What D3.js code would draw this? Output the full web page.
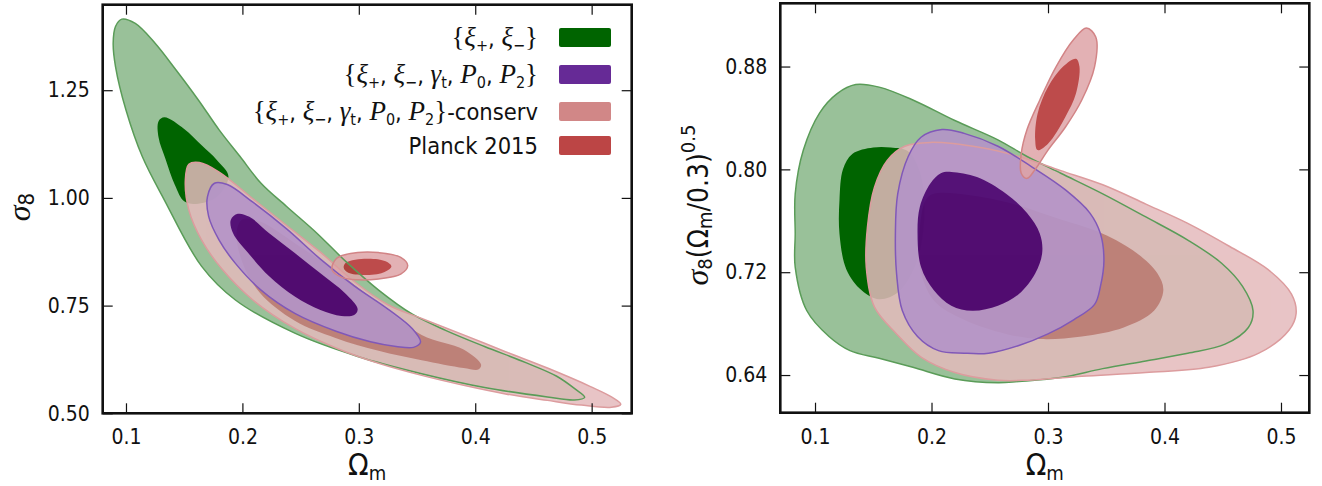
<!DOCTYPE html>
<html><head><meta charset="utf-8">
<script src="https://cdn.jsdelivr.net/npm/d3@7"></script>
<style>
body{margin:0;background:#fff;}
svg text{font-family:"DejaVu Sans Condensed","DejaVu Sans",sans-serif;font-stretch:condensed;fill:#111;}
</style></head><body><svg id="c" width="1322" height="486"></svg>
<script>
// ---------------- data ----------------
const xTicks = [0.1, 0.2, 0.3, 0.4, 0.5];
const yTicksLeft = [0.50, 0.75, 1.00, 1.25];
const yTicksRight = [0.64, 0.72, 0.80, 0.88];
const categories = ["{ξ+, ξ−}", "{ξ+, ξ−, γt, P0, P2}", "{ξ+, ξ−, γt, P0, P2}-conserv", "Planck 2015"];

// left panel: Omega_m vs sigma_8
const leftGreenOuter = [[0.0964,1.415],[0.108,1.405],[0.125,1.359],[0.143,1.297],[0.162,1.228],[0.180,1.158],[0.198,1.096],[0.216,1.034],[0.238,0.980],[0.264,0.918],[0.289,0.852],[0.317,0.786],[0.346,0.730],[0.375,0.692],[0.408,0.655],[0.444,0.617],[0.470,0.586],[0.486,0.556],[0.494,0.537],[0.485,0.531],[0.462,0.538],[0.408,0.560],[0.354,0.592],[0.299,0.632],[0.245,0.686],[0.194,0.763],[0.165,0.841],[0.133,0.995],[0.114,1.096],[0.100,1.204],[0.091,1.305],[0.089,1.359],[0.091,1.398]];
const leftGreenInner = [[0.128,1.178],[0.133,1.187],[0.150,1.160],[0.165,1.122],[0.178,1.088],[0.188,1.050],[0.178,1.002],[0.160,0.986],[0.150,0.992],[0.142,1.030],[0.134,1.090],[0.128,1.140]];
const leftConservOuter = [[0.154,1.078],[0.163,1.082],[0.180,1.060],[0.209,0.998],[0.238,0.936],[0.267,0.874],[0.296,0.806],[0.325,0.752],[0.354,0.720],[0.390,0.682],[0.426,0.643],[0.462,0.605],[0.499,0.562],[0.517,0.538],[0.525,0.521],[0.517,0.514],[0.491,0.519],[0.462,0.530],[0.426,0.545],[0.390,0.565],[0.354,0.588],[0.317,0.616],[0.281,0.651],[0.245,0.697],[0.209,0.763],[0.183,0.833],[0.165,0.902],[0.154,0.972],[0.151,1.042]];
const leftConservInner = [[0.200,0.950],[0.215,0.945],[0.245,0.895],[0.280,0.830],[0.315,0.760],[0.354,0.682],[0.390,0.648],[0.405,0.613],[0.403,0.602],[0.390,0.605],[0.354,0.623],[0.317,0.645],[0.280,0.675],[0.245,0.715],[0.215,0.780],[0.200,0.850],[0.195,0.920]];
const leftJointOuter = [[0.176,1.034],[0.187,1.031],[0.209,0.990],[0.238,0.928],[0.267,0.858],[0.296,0.796],[0.325,0.742],[0.346,0.696],[0.353,0.665],[0.347,0.653],[0.332,0.655],[0.310,0.666],[0.281,0.690],[0.245,0.732],[0.216,0.786],[0.194,0.848],[0.180,0.902],[0.171,0.957],[0.170,1.003]];
const leftJointInner = [[0.190,0.949],[0.196,0.963],[0.206,0.956],[0.223,0.918],[0.245,0.872],[0.267,0.825],[0.288,0.779],[0.299,0.742],[0.296,0.728],[0.285,0.726],[0.267,0.740],[0.245,0.771],[0.223,0.818],[0.205,0.872],[0.192,0.918]];
const leftPlanckOuter = [[0.281,0.860],[0.299,0.873],[0.317,0.873],[0.336,0.862],[0.342,0.843],[0.336,0.823],[0.317,0.812],[0.299,0.810],[0.286,0.815],[0.277,0.833]];
const leftPlanckInner = [[0.289,0.850],[0.307,0.859],[0.323,0.853],[0.328,0.841],[0.321,0.827],[0.305,0.821],[0.291,0.826],[0.287,0.838]];

// right panel: Omega_m vs sigma_8 (Omega_m/0.3)^0.5
const rightGreenOuter = [[0.135,0.866],[0.155,0.864],[0.184,0.854],[0.220,0.838],[0.257,0.823],[0.282,0.810],[0.311,0.797],[0.347,0.781],[0.384,0.763],[0.420,0.745],[0.449,0.727],[0.467,0.709],[0.476,0.690],[0.472,0.677],[0.452,0.664],[0.420,0.657],[0.384,0.651],[0.347,0.645],[0.311,0.638],[0.275,0.635],[0.257,0.634],[0.220,0.637],[0.184,0.646],[0.155,0.653],[0.130,0.659],[0.112,0.670],[0.093,0.690],[0.083,0.724],[0.083,0.750],[0.083,0.781],[0.090,0.815],[0.104,0.844],[0.119,0.859]];
const rightGreenInner = [[0.121,0.776],[0.124,0.800],[0.132,0.812],[0.150,0.817],[0.165,0.817],[0.180,0.814],[0.190,0.798],[0.194,0.770],[0.188,0.730],[0.172,0.705],[0.155,0.699],[0.140,0.706],[0.127,0.722],[0.121,0.750]];
const rightConservOuter = [[0.177,0.818],[0.199,0.821],[0.242,0.817],[0.275,0.810],[0.311,0.799],[0.347,0.788],[0.384,0.773],[0.420,0.758],[0.456,0.740],[0.489,0.722],[0.509,0.703],[0.513,0.688],[0.507,0.675],[0.481,0.657],[0.438,0.646],[0.384,0.642],[0.329,0.639],[0.282,0.636],[0.257,0.636],[0.220,0.642],[0.191,0.654],[0.170,0.672],[0.151,0.693],[0.144,0.724],[0.145,0.755],[0.151,0.786],[0.162,0.807]];
const rightConservInner = [[0.202,0.781],[0.257,0.776],[0.311,0.761],[0.347,0.750],[0.376,0.735],[0.394,0.719],[0.399,0.706],[0.391,0.690],[0.365,0.677],[0.329,0.670],[0.293,0.668],[0.264,0.672],[0.228,0.683],[0.202,0.698],[0.190,0.724],[0.190,0.755],[0.195,0.776]];
const rightJointOuter = [[0.209,0.831],[0.228,0.828],[0.257,0.818],[0.286,0.802],[0.315,0.784],[0.336,0.766],[0.345,0.750],[0.348,0.729],[0.345,0.709],[0.340,0.695],[0.322,0.683],[0.300,0.672],[0.275,0.663],[0.249,0.657],[0.228,0.657],[0.206,0.659],[0.188,0.670],[0.175,0.690],[0.170,0.719],[0.169,0.750],[0.171,0.781],[0.180,0.810],[0.191,0.825]];
const rightJointInner = [[0.217,0.798],[0.239,0.794],[0.264,0.781],[0.282,0.766],[0.293,0.750],[0.295,0.735],[0.289,0.719],[0.275,0.703],[0.257,0.694],[0.235,0.690],[0.217,0.694],[0.202,0.706],[0.191,0.724],[0.188,0.750],[0.190,0.771],[0.199,0.789],[0.208,0.797]];
const rightPlanckOuter = [[0.333,0.910],[0.341,0.903],[0.340,0.880],[0.329,0.854],[0.315,0.833],[0.300,0.815],[0.289,0.800],[0.282,0.793],[0.277,0.797],[0.277,0.812],[0.282,0.831],[0.293,0.854],[0.307,0.880],[0.322,0.901]];
const rightPlanckInner = [[0.324,0.886],[0.327,0.880],[0.324,0.859],[0.315,0.841],[0.300,0.820],[0.291,0.815],[0.289,0.823],[0.291,0.843],[0.300,0.864],[0.313,0.880]];

// ---------------- styling ----------------
const chainStyles = {
  green:   {light:"#99c199", dark:"#006400", line:"#5a9c58", op:1.0,  swatch:"#006400"},
  joint:   {light:"#b494c8", dark:"#460070", line:"#8058b8", op:0.9,  swatch:"#662a96"},
  conserv: {light:"#e4babc", dark:"#c47673", line:"#dc9c9e", op:0.85, swatch:"#d18787"},
  planck:  {light:"#dfa4a7", dark:"#b22c2c", line:"#d28486", op:0.85, swatch:"#bc4545"}
};
const legendKeys = ["green","joint","conserv","planck"];

const svg = d3.select("#c");
svg.append("rect").attr("width",1322).attr("height",486).attr("fill","#fff");

const panels = [
  {id:"L", px:[102.7,631.7], py:[413.3,4.7], xd:[0.08,0.5344], yd:[0.5,1.4485], yTicks:yTicksLeft,
   chains:[["green",leftGreenOuter,leftGreenInner],["conserv",leftConservOuter,leftConservInner],["joint",leftJointOuter,leftJointInner],["planck",leftPlanckOuter,leftPlanckInner]]},
  {id:"R", px:[780.3,1309.3], py:[412.7,3.3], xd:[0.0702,0.5243], yd:[0.6107,0.9292], yTicks:yTicksRight,
   chains:[["green",rightGreenOuter,rightGreenInner],["conserv",rightConservOuter,rightConservInner],["joint",rightJointOuter,rightJointInner],["planck",rightPlanckOuter,rightPlanckInner]]}
];

panels.forEach(p=>{
  const x = d3.scaleLinear().domain(p.xd).range(p.px);
  const y = d3.scaleLinear().domain(p.yd).range(p.py);
  const line = d3.line().x(d=>x(d[0])).y(d=>y(d[1])).curve(d3.curveCatmullRomClosed.alpha(0.5));
  const cid = "clip"+p.id;
  svg.append("clipPath").attr("id",cid).append("rect")
    .attr("x",p.px[0]).attr("y",p.py[1]).attr("width",p.px[1]-p.px[0]).attr("height",p.py[0]-p.py[1]);
  const g = svg.append("g").attr("clip-path","url(#"+cid+")");
  p.chains.forEach(([k,outer,inner])=>{
    const s = chainStyles[k];
    const grp = g.append("g").attr("opacity",s.op);
    grp.append("path").datum(outer).attr("d",line).attr("fill",s.light);
    grp.append("path").datum(inner).attr("d",line).attr("fill",s.dark);
  });
  p.chains.forEach(([k,outer])=>{
    const s = chainStyles[k];
    g.append("path").datum(outer).attr("d",line).attr("fill","none").attr("stroke",s.line).attr("stroke-width",1.5);
  });
  const tl = 10;
  const ax = svg.append("g");
  ax.append("g").attr("transform",`translate(0,${p.py[0]})`)
    .call(d3.axisBottom(x).tickValues(xTicks).tickSize(-tl).tickPadding(16).tickFormat(d3.format(".1f")));
  ax.append("g").attr("transform",`translate(0,${p.py[1]})`)
    .call(d3.axisTop(x).tickValues(xTicks).tickSize(-tl).tickFormat(""));
  ax.append("g").attr("transform",`translate(${p.px[0]},0)`)
    .call(d3.axisLeft(y).tickValues(p.yTicks).tickSize(-tl).tickPadding(13).tickFormat(d3.format(".2f")));
  ax.append("g").attr("transform",`translate(${p.px[1]},0)`)
    .call(d3.axisRight(y).tickValues(p.yTicks).tickSize(-tl).tickFormat(""));
  ax.selectAll(".domain").remove();
  ax.selectAll(".tick line").attr("stroke","#111").attr("stroke-width",1.2);
  ax.selectAll(".tick text").attr("font-size",21).attr("fill","#111")
    .style("font-family",'"DejaVu Sans Condensed","DejaVu Sans",sans-serif');
  svg.append("rect").attr("x",p.px[0]).attr("y",p.py[1]).attr("width",p.px[1]-p.px[0]).attr("height",p.py[0]-p.py[1])
    .attr("fill","none").attr("stroke","#111").attr("stroke-width",2.6);
  const xl = svg.append("text").attr("x",(p.px[0]+p.px[1])/2).attr("y",475).attr("text-anchor","middle");
  xl.append("tspan").attr("font-size",30).text("Ω");
  xl.append("tspan").attr("font-size",20).attr("dy",5).text("m");
});

const serif = '"Liberation Serif","DejaVu Serif",serif';
const yl1 = svg.append("text").attr("transform","translate(30,207) rotate(-90)").attr("text-anchor","middle");
yl1.append("tspan").attr("font-size",32).style("font-family",serif).style("font-style","italic").text("σ");
yl1.append("tspan").attr("font-size",22).attr("dy",4).text("8");

const yl2 = svg.append("text").attr("transform","translate(708,205) rotate(-90)").attr("text-anchor","middle");
yl2.append("tspan").attr("font-size",32).style("font-family",serif).style("font-style","italic").text("σ");
yl2.append("tspan").attr("font-size",20).attr("dy",4).text("8");
yl2.append("tspan").attr("font-size",28).attr("dy",-4).text("(Ω");
yl2.append("tspan").attr("font-size",20).attr("dy",4).text("m");
yl2.append("tspan").attr("font-size",28).attr("dy",-4).text("/0.3)");
yl2.append("tspan").attr("font-size",20).attr("dy",-13).text("0.5");

// legend: parse labels into segments (math symbol followed by a subscript char)
function segments(lab){
  const chars = Array.from(lab);
  const out = [];
  for (let i=0;i<chars.length;i++){
    const ch = chars[i], nx = chars[i+1];
    if ("ξγP".includes(ch) && nx !== undefined && "+−t02".includes(nx)) {
      out.push({t:ch, kind:"math"}); out.push({t:nx, kind:"sub"}); i++; continue;
    }
    if ("{}".includes(ch)) out.push({t:ch, kind:"brace"});
    else out.push({t:ch, kind:"text"});
  }
  return out;
}
const legendY = [37.5, 74.5, 111.5, 145.5];
const lg = svg.append("g");
categories.forEach((lab,i)=>{
  const t = lg.append("text").attr("x",538).attr("y",legendY[i]+8.5).attr("text-anchor","end").attr("font-size",23.5);
  let shift = 0;
  segments(lab).forEach(s=>{
    const ts = t.append("tspan").text(s.t);
    if (s.kind==="sub") { ts.attr("dy",5-shift).attr("font-size",16); shift = 5; }
    else {
      if (shift) { ts.attr("dy",-shift); shift = 0; }
      if (s.kind==="math") ts.style("font-family",serif).style("font-style","italic").attr("font-size",27);
      if (s.kind==="brace") ts.style("font-family",serif).attr("font-size",27);
    }
  });
  lg.append("rect").attr("x",559).attr("y",legendY[i]-9.5).attr("width",52).attr("height",19).attr("rx",2)
    .attr("fill",chainStyles[legendKeys[i]].swatch);
});
</script></body></html>
